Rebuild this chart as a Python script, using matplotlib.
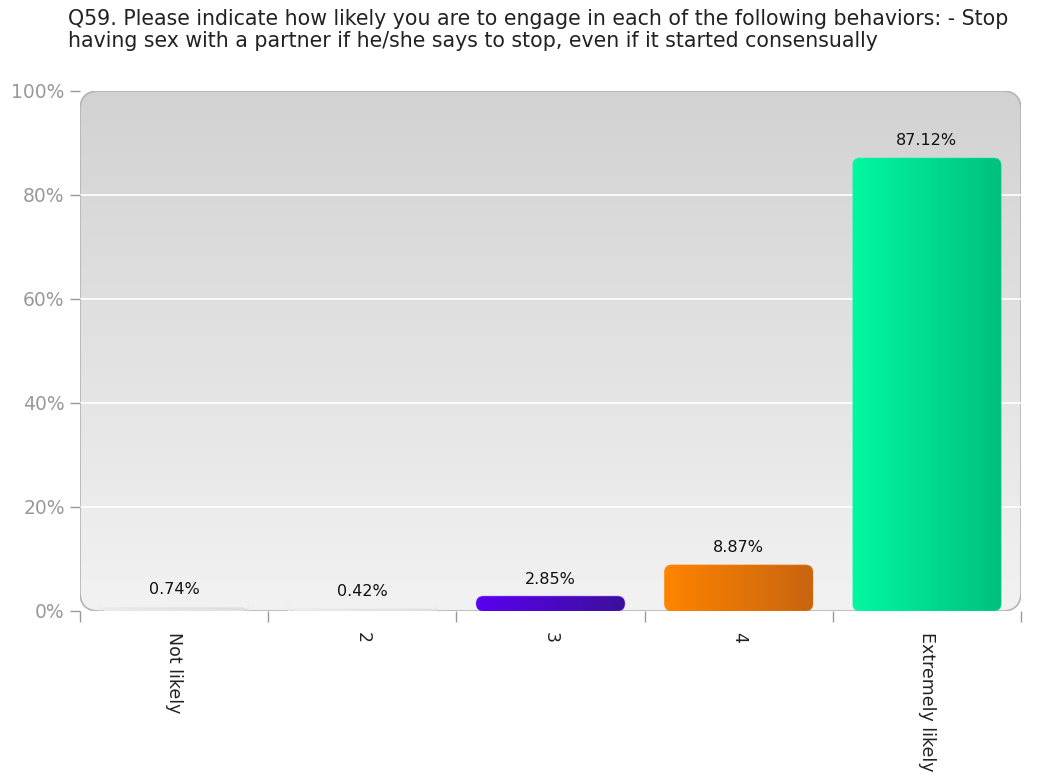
import numpy as np
import matplotlib
matplotlib.use("Agg")
import matplotlib.pyplot as plt
from matplotlib.patches import FancyBboxPatch
import matplotlib.colors as mcolors

plt.rcParams['font.family'] = ['DejaVu Sans']

title = ("Q59. Please indicate how likely you are to engage in each of the following behaviors: - Stop\n"
         "having sex with a partner if he/she says to stop, even if it started consensually")
categories = ["Not likely", "2", "3", "4", "Extremely likely"]
values = [0.74, 0.42, 2.85, 8.87, 87.12]
value_labels = ["0.74%", "0.42%", "2.85%", "8.87%", "87.12%"]
y_ticks = [0, 20, 40, 60, 80, 100]
y_tick_labels = ["0%", "20%", "40%", "60%", "80%", "100%"]
bar_colors_light = ["#ebebeb", "#ebebeb", "#5a00f0", "#ff8400", "#00f8a0"]
bar_colors_dark = ["#dedede", "#dedede", "#3c109a", "#c86410", "#00c07e"]

W, H = 1050, 783
fig = plt.figure(figsize=(W / 100, H / 100), dpi=100)
fig.patch.set_facecolor("white")
L, R, T, B = 80, 1021, 91, 611
ax = fig.add_axes([L / W, 1 - B / H, (R - L) / W, (B - T) / H])
ax.set_xlim(0, len(categories))
ax.set_ylim(0, 100)
ax.set_facecolor("none")
for s in ax.spines.values():
    s.set_visible(False)

# rounded background with vertical gradient
bg = FancyBboxPatch((0, 0), 1, 1, boxstyle="round,pad=0,rounding_size=0.02",
                    transform=ax.transAxes, facecolor="none",
                    edgecolor="#b4b4b4", linewidth=1.2, zorder=0.5,
                    mutation_aspect=(R - L) / (B - T))
ax.add_patch(bg)
grad = np.linspace(0, 1, 256).reshape(-1, 1)
cmap_bg = mcolors.LinearSegmentedColormap.from_list("bg", ["#f2f2f2", "#d2d2d2"])
im = ax.imshow(grad, extent=[0, 1, 0, 1], transform=ax.transAxes, origin="lower",
               aspect="auto", cmap=cmap_bg, zorder=0.1)
im.set_clip_path(bg)

# gridlines
for yt in y_ticks[1:-1]:
    ax.axhline(yt, color="white", linewidth=1.2, zorder=1)

# bars
x = np.arange(len(categories)) + 0.5
bw = 0.79
bars = ax.bar(x, values, width=bw, color="none", edgecolor="none", zorder=2)
for i, b in enumerate(bars):
    bx, by = b.get_x(), b.get_y()
    bh = b.get_height()
    patch = FancyBboxPatch((bx, by), bw, bh,
                           boxstyle="round,pad=0,rounding_size=0.04",
                           mutation_aspect=(100 / (B - T)) / (len(categories) / (R - L)),
                           facecolor="none", edgecolor=bar_colors_light[i],
                           linewidth=0.6, alpha=0.5, zorder=3)
    ax.add_patch(patch)
    cm = mcolors.LinearSegmentedColormap.from_list("b%d" % i,
                                                   [bar_colors_light[i], bar_colors_dark[i]])
    g = np.linspace(0, 1, 128).reshape(1, -1)
    bim = ax.imshow(g, extent=[bx, bx + bw, by, by + bh], origin="lower",
                    aspect="auto", cmap=cm, zorder=2.5)
    bim.set_clip_path(patch)
    ax.text(x[i], values[i] + 3.3, value_labels[i], ha="center", va="center",
            fontsize=11.5, color="#111111", zorder=4)

ax.set_xlim(0, len(categories))
ax.set_ylim(0, 100)

# x ticks at category boundaries, labels at centers
ax.set_xticks(np.arange(len(categories) + 1))
ax.set_xticklabels([])
ax.set_xticks(x, minor=True)
ax.set_xticklabels(categories, minor=True, rotation=-90, fontsize=12.5,
                   color="#222222", va="top", ha="center")
ax.tick_params(axis="x", which="major", length=8, color="#999999", width=1)
ax.tick_params(axis="x", which="minor", length=0, pad=15)

ax.set_yticks(y_ticks)
ax.set_yticklabels(y_tick_labels, fontsize=13.5, color="#999999")
ax.tick_params(axis="y", length=7, color="#999999", width=1, pad=4)

fig.text(68 / W, 1 - 9 / H, title, ha="left", va="top", fontsize=14.8,
         color="#222222", linespacing=1.12)

fig.savefig("out.png", dpi=100, facecolor="white")
